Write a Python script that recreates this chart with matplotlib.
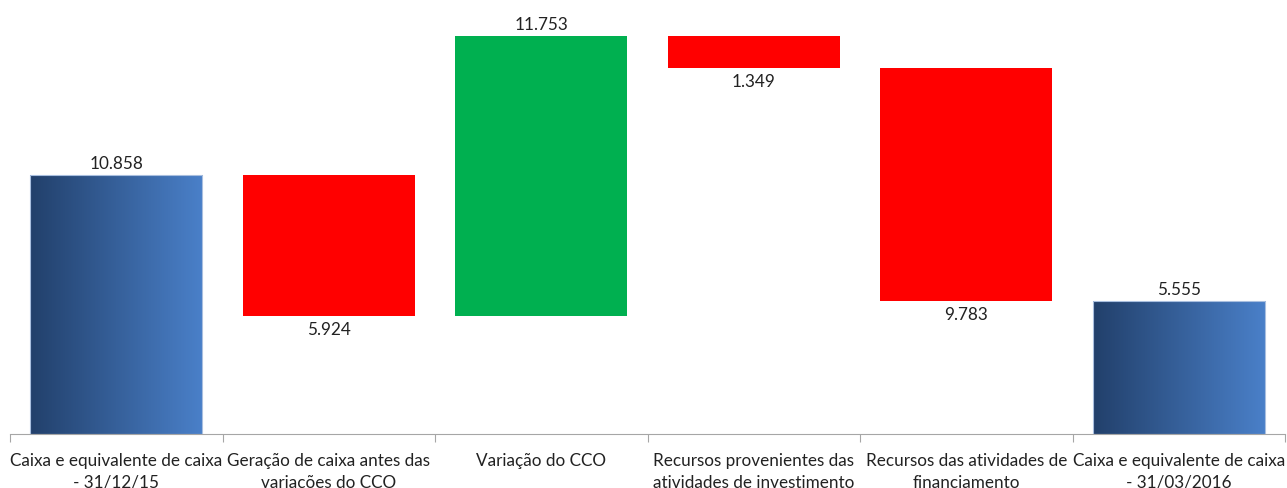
import matplotlib.pyplot as plt
import numpy as np
from matplotlib.colors import LinearSegmentedColormap

categories = ["Caixa e equivalente de caixa\n- 31/12/15",
              "Geração de caixa antes das\nvariações do CCO",
              "Variação do CCO",
              "Recursos provenientes das\natividades de investimento",
              "Recursos das atividades de\nfinanciamento",
              "Caixa e equivalente de caixa\n- 31/03/2016"]
changes = [10.858, -5.924, 11.753, -1.349, -9.783, 5.555]
kinds = ["total", "delta", "delta", "delta", "delta", "total"]
labels = ["10.858", "5.924", "11.753", "1.349", "9.783", "5.555"]

plt.rcParams['font.family'] = ['Lato', 'DejaVu Sans']

fig = plt.figure(figsize=(12.87, 4.89), dpi=100)
ax = fig.add_axes([10 / 1287, 1 - 435 / 489, 1275 / 1287, 435 / 489])

blue_cmap = LinearSegmentedColormap.from_list("blu", ["#22406b", "#4a80c9"])
grad = np.linspace(0, 1, 256).reshape(1, -1)

width = 0.81
running = 0.0
for i, (v, kind, lab) in enumerate(zip(changes, kinds, labels)):
    if kind == "total":
        bottom, top = 0.0, v
        running = v
        ax.imshow(grad, cmap=blue_cmap, aspect="auto", zorder=2,
                  extent=[i - width / 2, i + width / 2, bottom, top])
        ax.add_patch(plt.Rectangle((i - width / 2, bottom), width, top - bottom,
                                   fill=False, edgecolor="#a9bfdf", lw=0.8, zorder=3))
        ax.text(i, top + 0.18, lab, ha="center", va="bottom", fontsize=12.3, color="#222222")
    else:
        start = running
        running = running + v
        bottom, top = min(start, running), max(start, running)
        color = "#00b050" if v > 0 else "#ff0000"
        ax.bar(i, top - bottom, bottom=bottom, width=width, color=color, zorder=2)
        if v > 0:
            ax.text(i, top + 0.18, lab, ha="center", va="bottom", fontsize=12.3, color="#222222")
        else:
            ax.text(i, bottom - 0.2, lab, ha="center", va="top", fontsize=12.3, color="#222222")

ax.set_xlim(-0.5, len(categories) - 0.5)
ax.set_ylim(0, 435 / (259 / 10.858))
for s in ["top", "right", "left"]:
    ax.spines[s].set_visible(False)
ax.spines["bottom"].set_color("#a6a6a6")
ax.set_yticks([])
ax.set_xticks(np.arange(-0.5, len(categories), 1.0))
ax.set_xticklabels([])
ax.tick_params(axis="x", length=6, color="#a6a6a6")
ax.set_xticks(np.arange(len(categories)), minor=True)
ax.set_xticklabels(categories, minor=True, fontsize=12.3, color="#222222", linespacing=1.45)
ax.tick_params(axis="x", which="minor", length=0, pad=13)

fig.savefig("out.png", dpi=100)
